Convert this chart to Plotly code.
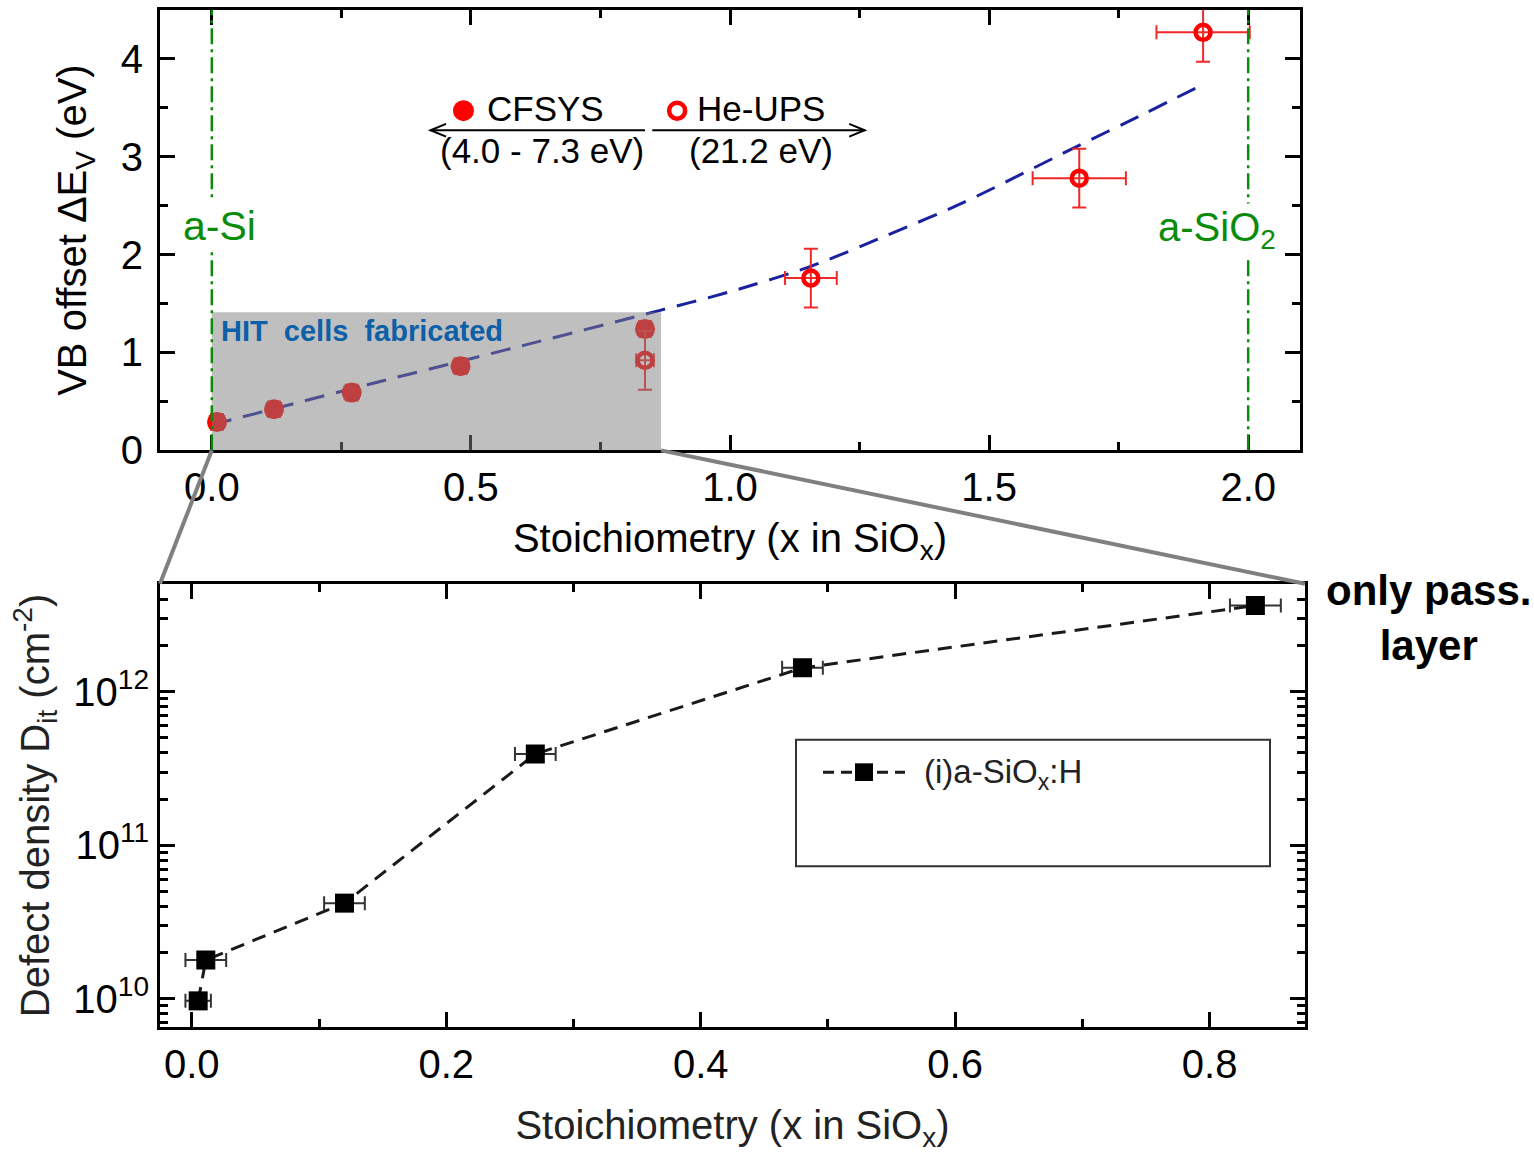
import math
import plotly.graph_objects as go

FONT = "Liberation Sans, Arial, sans-serif"
W, H = 1534, 1166

# ---------------- top panel: valence-band offset vs. stoichiometry ----------------
cfsys_x = [0.01, 0.12, 0.27, 0.48, 0.836]
cfsys_y = [0.29, 0.42, 0.59, 0.86, 1.24]
cfsys_xerr = [0.014, 0.014, 0.014, 0.014, 0.014]
cfsys_yerr = [0.08, 0.08, 0.08, 0.08, 0.08]

ups_x = [0.836, 1.156, 1.674, 1.913]
ups_y = [0.92, 1.76, 2.78, 4.27]
ups_xerr = [0.017, 0.05, 0.09, 0.09]
ups_yerr = [0.30, 0.30, 0.30, 0.30]

trend_x = [0.0, 0.3, 0.6, 0.865, 1.0, 1.156, 1.3, 1.45, 1.664, 1.8, 1.91]
trend_y = [0.26, 0.67, 1.07, 1.43, 1.62, 1.88, 2.19, 2.53, 3.09, 3.44, 3.73]

phase_x = [0.0, 2.0]
phase_labels = ["a-Si", "a-SiO<sub>2</sub>"]

hit_x = [0.0, 0.867]
hit_y = [0.0, 1.41]

# ---------------- bottom panel: interface defect density ----------------
dit_x = [0.005, 0.011, 0.120, 0.270, 0.480, 0.836]
dit_y = [0.97e10, 1.79e10, 4.2e10, 3.93e11, 1.43e12, 3.64e12]
dit_xerr = [0.010, 0.016, 0.016, 0.016, 0.016, 0.020]
dit_name = "(i)a-SiO<sub>x</sub>:H"

# axis ranges and panel placement (page pixels)
top_xr = [-0.1, 2.1]
top_yr = [0.0, 4.5]
bot_xr = [-0.025, 0.875]
bot_yr = [9.815, 12.703]

top_px = (160, 1300, 10, 459)    # left, right, top, bottom
bot_px = (160, 1305, 595, 1047)


def px_x(x):
    return x / W


def px_y(y):
    return 1 - y / H


def xdom(p):
    return [px_x(p[0]), px_x(p[1])]


def ydom(p):
    return [px_y(p[3]), px_y(p[2])]


def to_paper(x, y, xr, yr, p, logy=False):
    xd, yd = xdom(p), ydom(p)
    px = xd[0] + (x - xr[0]) / (xr[1] - xr[0]) * (xd[1] - xd[0])
    yv = math.log10(y) if logy else y
    py = yd[0] + (yv - yr[0]) / (yr[1] - yr[0]) * (yd[1] - yd[0])
    return px, py


RED = "#ff0000"
ERR_RED = "#f02828"
GREEN = "#0a8c0a"

fig = go.Figure()

fig.add_trace(go.Scatter(
    x=trend_x, y=trend_y, mode="lines", xaxis="x", yaxis="y",
    line=dict(color="#1a22a0", width=3, dash="20px,12px", shape="spline", smoothing=0.8),
    showlegend=False, hoverinfo="skip"))

fig.add_trace(go.Scatter(
    x=cfsys_x, y=cfsys_y, mode="markers", xaxis="x", yaxis="y", name="CFSYS",
    marker=dict(symbol="circle", size=20, color=RED),
    error_x=dict(type="data", array=cfsys_xerr, color=ERR_RED, thickness=2, width=7),
    error_y=dict(type="data", array=cfsys_yerr, color=ERR_RED, thickness=2, width=7),
    showlegend=False))

fig.add_trace(go.Scatter(
    x=ups_x, y=ups_y, mode="markers", xaxis="x", yaxis="y", name="He-UPS",
    marker=dict(symbol="circle-open", size=15, color=RED, line=dict(width=4.5, color=RED)),
    error_x=dict(type="data", array=ups_xerr, color=ERR_RED, thickness=2, width=7),
    error_y=dict(type="data", array=ups_yerr, color=ERR_RED, thickness=2, width=7),
    showlegend=False))

# key symbols for the two methods
fig.add_trace(go.Scatter(
    x=[0.4856], y=[3.47], mode="markers", xaxis="x", yaxis="y",
    marker=dict(symbol="circle", size=21, color=RED), showlegend=False, hoverinfo="skip"))
fig.add_trace(go.Scatter(
    x=[0.898], y=[3.47], mode="markers", xaxis="x", yaxis="y",
    marker=dict(symbol="circle-open", size=16, color=RED, line=dict(width=4.5, color=RED)),
    showlegend=False, hoverinfo="skip"))

# bottom panel data
fig.add_trace(go.Scatter(
    x=dit_x, y=dit_y, mode="lines+markers", xaxis="x2", yaxis="y2", name=dit_name,
    line=dict(color="#1a1a1a", width=3, dash="14px,9px"),
    marker=dict(symbol="square", size=19, color="black"),
    error_x=dict(type="data", array=dit_xerr, color="#333333", thickness=2, width=7),
    showlegend=False))

shapes = []
# shaded region: compositions used for fabricated HIT cells
shapes.append(dict(type="rect", xref="x", yref="y", x0=hit_x[0], x1=hit_x[1],
                   y0=hit_y[0], y1=hit_y[1], fillcolor="rgba(128,128,128,0.5)",
                   line=dict(width=0), layer="above"))
# reference compositions a-Si and a-SiO2
for px in phase_x:
    shapes.append(dict(type="line", xref="x", yref="y", x0=px, x1=px, y0=top_yr[0], y1=top_yr[1],
                       line=dict(color=GREEN, width=2.5, dash="16px,5px,3px,5px"),
                       layer="above"))

# arrows of the method key
arr_y = 3.27
left_arrow = (0.836, 0.422)
right_arrow = (0.85, 1.26)
head_dx, head_dy = 0.03, 0.065
shapes.append(dict(type="line", xref="x", yref="y", x0=left_arrow[0], x1=left_arrow[1],
                   y0=arr_y, y1=arr_y, line=dict(color="black", width=2)))
shapes.append(dict(type="path", xref="x", yref="y",
                   path=f"M {left_arrow[1] + head_dx},{arr_y + head_dy} L {left_arrow[1]},{arr_y} "
                        f"L {left_arrow[1] + head_dx},{arr_y - head_dy}",
                   line=dict(color="black", width=2)))
shapes.append(dict(type="line", xref="x", yref="y", x0=right_arrow[0], x1=right_arrow[1],
                   y0=arr_y, y1=arr_y, line=dict(color="black", width=2)))
shapes.append(dict(type="path", xref="x", yref="y",
                   path=f"M {right_arrow[1] - head_dx},{arr_y + head_dy} L {right_arrow[1]},{arr_y} "
                        f"L {right_arrow[1] - head_dx},{arr_y - head_dy}",
                   line=dict(color="black", width=2)))

# zoom connectors from the shaded region to the lower panel
bl = to_paper(hit_x[0], hit_y[0], top_xr, top_yr, top_px)
br = to_paper(hit_x[1], hit_y[0], top_xr, top_yr, top_px)
b_tl = (xdom(bot_px)[0], ydom(bot_px)[1])
b_tr = (xdom(bot_px)[1], ydom(bot_px)[1])
for a, b in [(bl, b_tl), (br, b_tr)]:
    shapes.append(dict(type="line", xref="paper", yref="paper", x0=a[0], y0=a[1], x1=b[0], y1=b[1],
                       line=dict(color="#808080", width=4), layer="above"))

# key box of the lower panel: frame, dashed sample line and square symbol
key_box = (796, 1270, 754, 883)
key_line = (823, 905, 787)
key_sq = 9
shapes.append(dict(type="rect", xref="paper", yref="paper",
                   x0=px_x(key_box[0]), x1=px_x(key_box[1]),
                   y0=px_y(key_box[3]), y1=px_y(key_box[2]),
                   line=dict(color="#333333", width=2), fillcolor="rgba(0,0,0,0)"))
shapes.append(dict(type="line", xref="paper", yref="paper",
                   x0=px_x(key_line[0]), x1=px_x(key_line[1]),
                   y0=px_y(key_line[2]), y1=px_y(key_line[2]),
                   line=dict(color="#1a1a1a", width=3, dash="11px,7px")))
key_cx = (key_line[0] + key_line[1]) / 2
shapes.append(dict(type="rect", xref="paper", yref="paper",
                   x0=px_x(key_cx - key_sq), x1=px_x(key_cx + key_sq),
                   y0=px_y(key_line[2] + key_sq), y1=px_y(key_line[2] - key_sq),
                   line=dict(width=0), fillcolor="black"))

annotations = []
annotations.append(dict(x=0.015, y=2.29, xref="x", yref="y", text=phase_labels[0],
                        showarrow=False, font=dict(family=FONT, size=41, color=GREEN),
                        bgcolor="white", xanchor="center", yanchor="middle"))
annotations.append(dict(x=1.94, y=2.25, xref="x", yref="y", text=phase_labels[1],
                        showarrow=False, font=dict(family=FONT, size=40, color=GREEN),
                        bgcolor="white", xanchor="center", yanchor="middle"))
annotations.append(dict(x=0.014, y=1.22, xref="x", yref="y", text="<b>HIT  cells  fabricated</b>",
                        showarrow=False, font=dict(family=FONT, size=29, color="#0d5fa8"),
                        xanchor="left", yanchor="middle"))
annotations.append(dict(x=0.528, y=3.49, xref="x", yref="y", text="CFSYS",
                        showarrow=False, font=dict(family=FONT, size=35, color="black"),
                        xanchor="left", yanchor="middle"))
annotations.append(dict(x=0.932, y=3.49, xref="x", yref="y", text="He-UPS",
                        showarrow=False, font=dict(family=FONT, size=35, color="black"),
                        xanchor="left", yanchor="middle"))
annotations.append(dict(x=0.638, y=3.06, xref="x", yref="y", text="(4.0 - 7.3 eV)",
                        showarrow=False, font=dict(family=FONT, size=35, color="black"),
                        xanchor="center", yanchor="middle"))
annotations.append(dict(x=1.06, y=3.06, xref="x", yref="y", text="(21.2 eV)",
                        showarrow=False, font=dict(family=FONT, size=35, color="black"),
                        xanchor="center", yanchor="middle"))
annotations.append(dict(x=px_x(922), y=px_y(789), xref="paper", yref="paper", text=dit_name,
                        showarrow=False, font=dict(family=FONT, size=33, color="#222222"),
                        xanchor="left", yanchor="middle"))
annotations.append(dict(x=px_x(1428), y=px_y(630), xref="paper", yref="paper",
                        text="<b>only pass.</b><br><b>layer</b>",
                        showarrow=False, font=dict(family=FONT, size=42, color="black"),
                        xanchor="center", yanchor="middle"))

axis_common = dict(showline=True, linecolor="black", linewidth=3, mirror="allticks",
                   ticks="inside", ticklen=15, tickwidth=2.5, tickcolor="black",
                   showgrid=False, zeroline=False,
                   tickfont=dict(family=FONT, size=40, color="black"))
minor_common = dict(ticks="inside", ticklen=8, tickwidth=2.5, tickcolor="black")

minor_dec = [m * 10 ** e for e in (9, 10, 11, 12) for m in range(2, 10)]

fig.update_layout(
    width=W, height=H, margin=dict(l=0, r=0, t=0, b=0),
    paper_bgcolor="white", plot_bgcolor="white",
    font=dict(family=FONT, color="black"),
    xaxis=dict(domain=xdom(top_px), anchor="y", range=top_xr, dtick=0.5, tick0=0,
               tickformat=".1f", ticklabelstandoff=0,
               minor=dict(dtick=0.25, tick0=0, **minor_common),
               title=dict(text="Stoichiometry (x in SiO<sub>x</sub>)",
                          font=dict(family=FONT, size=40, color="black"), standoff=16),
               **axis_common),
    yaxis=dict(domain=ydom(top_px), anchor="x", range=top_yr, dtick=1, tick0=0,
               ticklabelstandoff=6,
               minor=dict(dtick=0.5, tick0=0, **minor_common),
               title=dict(text="VB offset ΔE<sub>V</sub> (eV)",
                          font=dict(family=FONT, size=40, color="black"), standoff=22),
               **axis_common),
    xaxis2=dict(domain=xdom(bot_px), anchor="y2", range=bot_xr, dtick=0.2, tick0=0,
                tickformat=".1f", ticklabelstandoff=0,
                minor=dict(dtick=0.1, tick0=0, **minor_common),
                title=dict(text="Stoichiometry (x in SiO<sub>x</sub>)",
                           font=dict(family=FONT, size=40, color="#222222"), standoff=26),
                **axis_common),
    yaxis2=dict(domain=ydom(bot_px), anchor="x2", type="log", range=bot_yr,
                tickvals=[1e10, 1e11, 1e12],
                ticktext=["10<sup>10</sup>", "10<sup>11</sup>", "10<sup>12</sup>"],
                ticklabelstandoff=0,
                minor=dict(tickvals=minor_dec, **minor_common),
                title=dict(text="Defect density D<sub>it</sub> (cm<sup>-2</sup>)",
                           font=dict(family=FONT, size=40, color="#222222"), standoff=12),
                **axis_common),
    showlegend=False,
    shapes=shapes,
    annotations=annotations,
)

fig.write_html("out.html")
